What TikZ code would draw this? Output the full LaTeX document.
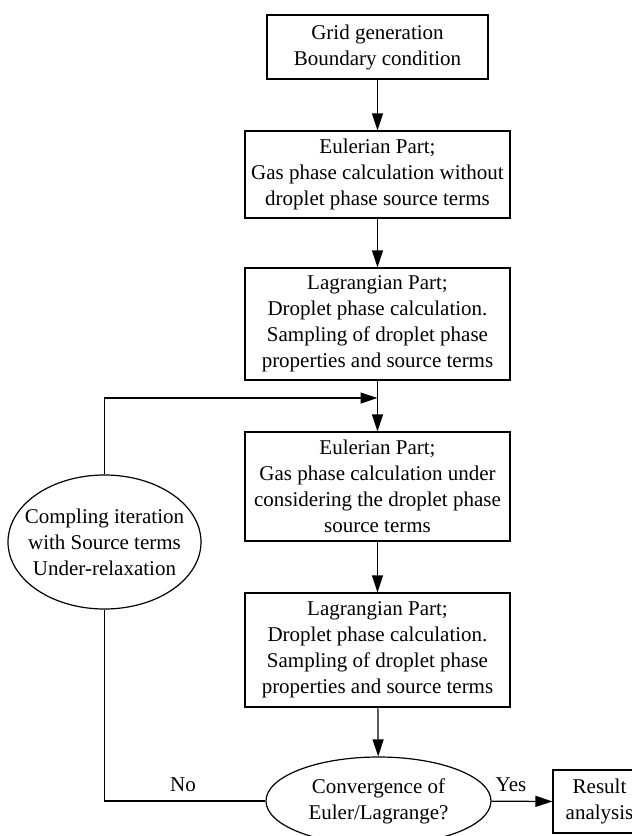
\documentclass[tikz,border=0pt]{standalone}
\usepackage{fontspec}
\setmainfont{Liberation Serif}
\usetikzlibrary{arrows.meta,shapes.geometric}
\begin{document}
\begin{tikzpicture}[x=1pt,y=-1pt,
  every node/.style={font=\fontsize{21}{26}\selectfont, text=black},
  boxnode/.style={draw, line width=1.2pt, align=center, inner sep=0pt},
  ellnode/.style={draw, ellipse, line width=1.2pt, align=center, inner sep=-40pt},
  conn/.style={line width=1.2pt},
  arr/.style={conn, -{Triangle[length=17pt,width=11pt]}},
  lbl/.style={inner sep=0pt}]
\useasboundingbox (0,0) rectangle (632,836);
\clip (0,0) rectangle (632,836);

\node[boxnode, minimum width=221pt, minimum height=64pt] (b1) at (377.5,47)
  {Grid generation\\Boundary condition};
\node[boxnode, minimum width=265pt, minimum height=87pt] (b2) at (377.5,174.5)
  {Eulerian Part;\\Gas phase calculation without\\droplet phase source terms};
\node[boxnode, minimum width=265pt, minimum height=112pt] (b3) at (377.5,324)
  {Lagrangian Part;\\Droplet phase calculation.\\Sampling of droplet phase\\properties and source terms};
\node[boxnode, minimum width=265pt, minimum height=109pt] (b4) at (377.5,486.5)
  {Eulerian Part;\\Gas phase calculation under\\considering the droplet phase\\source terms};
\node[boxnode, minimum width=265pt, minimum height=114pt] (b5) at (377.5,650)
  {Lagrangian Part;\\Droplet phase calculation.\\Sampling of droplet phase\\properties and source terms};
\node[ellnode, minimum width=225pt, minimum height=88pt] (conv) at (378.5,801)
  {Convergence of\\Euler/Lagrange?};
\node[ellnode, minimum width=193pt, minimum height=134pt] (loop) at (104.5,542)
  {Compling iteration\\with Source terms\\Under-relaxation};
\node[boxnode, minimum width=93pt, minimum height=63pt] (res) at (599.5,801.5)
  {Result\\analysis};

\coordinate (fb) at (377.5,398);

\draw[arr] (b1) -- (b2);
\draw[arr] (b2) -- (b3);
\draw[arr] (b3) -- (b4);
\draw[arr] (b4) -- (b5);
\draw[arr] (b5) -- (conv);
\draw[arr] (conv) -- (res);
\draw[arr] (loop.north) |- (fb);
\draw[conn] (conv.west) -| (loop.south);

\node[lbl] (no) at (183,785) {No};
\node[lbl] (yes) at (511,785) {Yes};
\end{tikzpicture}
\end{document}
